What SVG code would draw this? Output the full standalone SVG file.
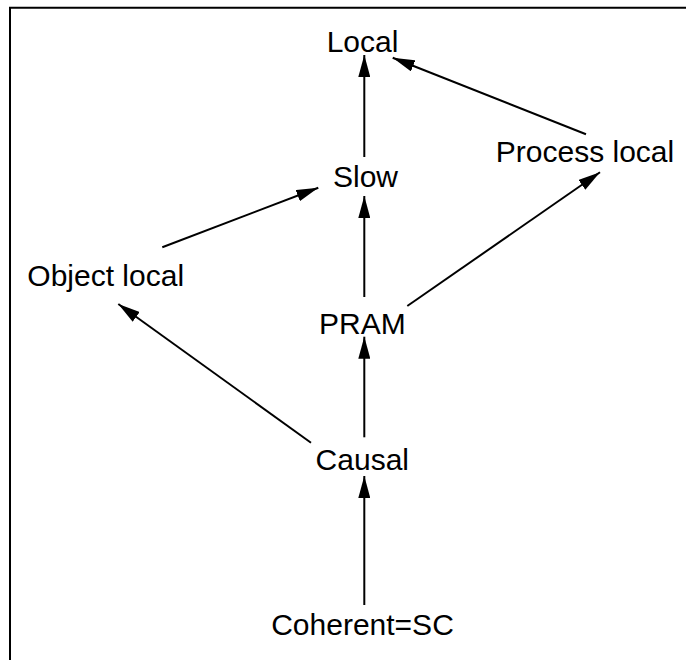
<svg xmlns="http://www.w3.org/2000/svg" width="686" height="660" viewBox="0 0 686 660">
  <style>
    .label { font-family: "Liberation Sans", Arial, sans-serif; font-size: 30px; fill: #000; text-anchor: middle; }
    .edge { stroke: #000; stroke-width: 2; fill: none; marker-end: url(#arrow); }
    .frame { stroke: #000; stroke-width: 2; fill: none; }
  </style>
  <defs>
    <marker id="arrow" markerUnits="userSpaceOnUse" markerWidth="22" markerHeight="12" refX="22" refY="6" orient="auto">
      <path d="M0,0 L22,6 L0,12 z" fill="#000"/>
    </marker>
  </defs>
  <rect width="686" height="660" fill="#fff"/>
  <!-- outer frame (top and left edges) -->
  <path class="frame" d="M10,660 L10,7.7 L686,7.7"/>

  <g id="edges">
    <line class="edge" x1="364.3" y1="157" x2="364.3" y2="55"/>
    <line class="edge" x1="586" y1="134.3" x2="392.7" y2="57.7"/>
    <line class="edge" x1="162.3" y1="247.3" x2="318.3" y2="187.7"/>
    <line class="edge" x1="364.3" y1="297" x2="364.3" y2="196"/>
    <line class="edge" x1="407.3" y1="306" x2="600" y2="172.3"/>
    <line class="edge" x1="311" y1="442.7" x2="118.3" y2="304"/>
    <line class="edge" x1="364.3" y1="437.3" x2="364.3" y2="336.7"/>
    <line class="edge" x1="364.3" y1="605" x2="364.3" y2="476"/>
  </g>

  <g id="node-local"><text class="label" x="362.5" y="51.5">Local</text></g>
  <g id="node-slow"><text class="label" x="365.5" y="187">Slow</text></g>
  <g id="node-process-local"><text class="label" x="585" y="162">Process local</text></g>
  <g id="node-object-local"><text class="label" x="105.7" y="286">Object local</text></g>
  <g id="node-pram"><text class="label" x="362.3" y="333.5">PRAM</text></g>
  <g id="node-causal"><text class="label" x="362.3" y="470">Causal</text></g>
  <g id="node-coherent"><text class="label" x="362.5" y="635">Coherent=SC</text></g>
</svg>
